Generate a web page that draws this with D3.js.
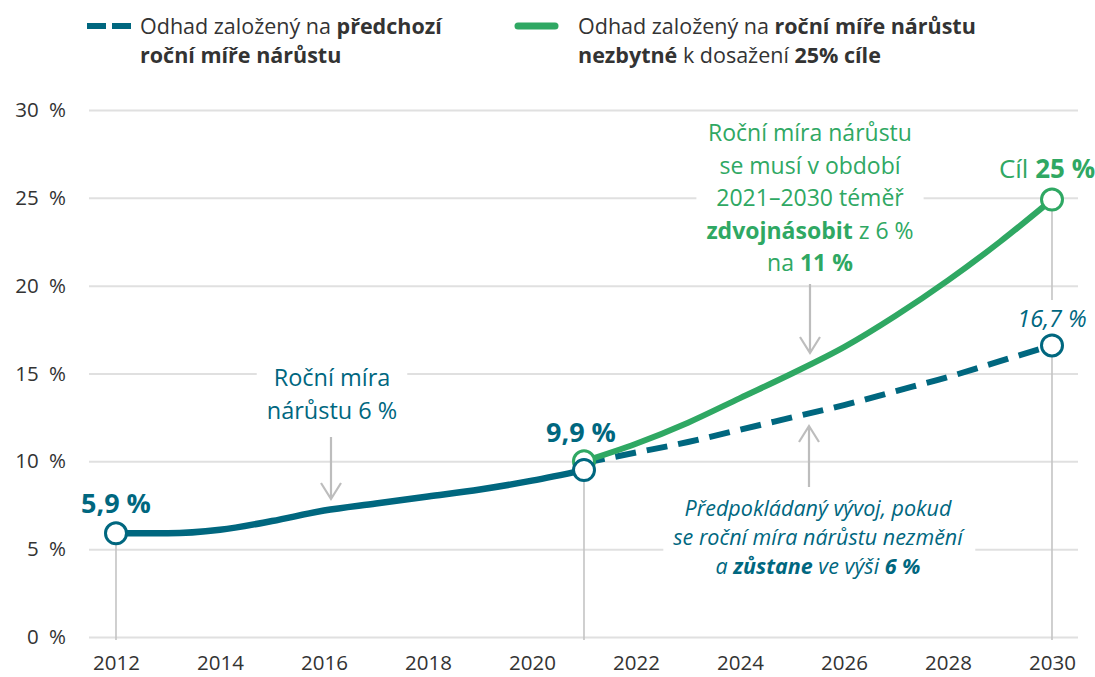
<!DOCTYPE html>
<html>
<head>
<meta charset="utf-8">
<script src="https://cdn.jsdelivr.net/npm/d3@7"></script>
<style>
  body { margin: 0; background: #fff; }
  svg { font-family: "Open Sans", "Noto Sans", sans-serif; }
</style>
</head>
<body>
<div id="chart"></div>
<script>
// data
var histYears = [2012, 2013, 2014, 2015, 2016, 2017, 2018, 2019, 2020, 2021]
var histValues = [5.9, 5.9, 6.1, 6.6, 7.2, 7.6, 8.0, 8.4, 8.9, 9.5]
var projYears = [2021, 2022, 2023, 2024, 2025, 2026, 2027, 2028, 2029, 2030]
var sameRate = [9.9, 10.5, 11.1, 11.8, 12.5, 13.2, 14.0, 14.8, 15.7, 16.6]   // 6 % growth kept
var targetRate = [10.0, 11.0, 12.2, 13.6, 15.0, 16.5, 18.3, 20.3, 22.5, 24.9] // needed for 25 %
var yTicks = [0, 5, 10, 15, 20, 25, 30]
var xTicks = [2012, 2014, 2016, 2018, 2020, 2022, 2024, 2026, 2028, 2030]

var width = 1095,
    height = 677

var teal = "#00677f",
    green = "#2fa863",
    grid = "#e0e0e0",
    pointer = "#bdbdbd",
    ink = "#333"

var svg = d3.select("#chart").append("svg")
    .attr("width", width)
    .attr("height", height)

var x = d3.scaleLinear().domain([2012, 2030]).range([116, 1052])
var y = d3.scaleLinear().domain([0, 30]).range([637, 110])

// y grid + labels
var yAxis = svg.append("g")
    .attr("transform", "translate(89,0)")
    .call(d3.axisLeft(y).tickValues(yTicks).tickSize(-989).tickPadding(23)
        .tickFormat(function(d) { return d + "\u2002%" }))
yAxis.select(".domain").remove()
yAxis.selectAll("line").attr("stroke", grid).attr("stroke-width", 2)
yAxis.selectAll("text").attr("fill", ink).style("font-size", "20.5px").style("font-family", "Open Sans")

// x labels
var xAxis = svg.append("g")
    .attr("transform", "translate(0," + y(0) + ")")
    .call(d3.axisBottom(x).tickValues(xTicks).tickSize(0).tickPadding(18).tickFormat(d3.format("d")))
xAxis.select(".domain").remove()
xAxis.selectAll("text").attr("fill", ink).style("font-size", "20.5px").style("font-family", "Open Sans")

// annotations (text blocks with white backing that cuts the grid)
function block(cx, lines, opts) {
    var g = svg.append("g")
    var t = g.append("text")
        .attr("text-anchor", "middle")
        .attr("fill", opts.color)
        .style("font-size", opts.size + "px")
        .style("font-style", opts.italic ? "italic" : "normal")
    lines.forEach(function(line, i) {
        var first = true
        line.forEach(function(seg) {
            var ts = t.append("tspan").text(seg[0])
                .style("font-weight", seg[1] ? "bold" : "normal")
            if (first) { ts.attr("x", cx).attr("y", opts.y0 + i * opts.lh); first = false }
        })
    })
    var bb = t.node().getBBox()
    g.insert("rect", "text")
        .attr("x", bb.x - 10).attr("y", bb.y)
        .attr("width", bb.width + 20).attr("height", bb.height)
        .attr("fill", "#fff")
    return g
}

function arrow(xp, y1, y2) {
    // y1 = tail, y2 = tip
    var dir = y2 > y1 ? -1 : 1
    svg.append("path")
        .attr("d", "M" + xp + "," + y1 + "V" + y2 +
            "M" + (xp - 10) + "," + (y2 + dir * 16) + "L" + xp + "," + y2 + "L" + (xp + 10) + "," + (y2 + dir * 16))
        .attr("fill", "none")
        .attr("stroke", pointer)
        .attr("stroke-width", 2.2)
}

block(332, [[["Roční míra", false]], [["nárůstu 6 %", false]]],
    { color: teal, size: 23.5, y0: 386, lh: 33 })
arrow(331, 437, 499)

block(810, [
    [["Roční míra nárůstu", false]],
    [["se musí v období", false]],
    [["2021–2030 téměř", false]],
    [["zdvojnásobit", true], [" z 6 %", false]],
    [["na ", false], ["11 %", true]]
], { color: green, size: 23, y0: 141, lh: 32.5 })
arrow(810, 284, 353)

block(818, [
    [["Předpokládaný vývoj, pokud", false]],
    [["se roční míra nárůstu nezmění", false]],
    [["a ", false], ["zůstane", true], [" ve výši ", false], ["6 %", true]]
], { color: teal, size: 21.5, italic: true, y0: 516, lh: 29 })
arrow(809, 487, 426)

// drop lines
function drop(xv, y1, y2) {
    svg.append("line")
        .attr("x1", x(xv)).attr("x2", x(xv))
        .attr("y1", y1).attr("y2", y2)
        .attr("stroke", "#c4c4c4").attr("stroke-width", 1.6)
}
drop(2012, y(histValues[0]), y(0) + 3)
drop(2021, y(histValues[9]), y(0) + 3)
drop(2030, y(targetRate[9]), 300)
drop(2030, y(sameRate[9]), y(0) + 3)

// lines
var line = d3.line()
    .x(function(d) { return x(d[0]) })
    .y(function(d) { return y(d[1]) })
    .curve(d3.curveMonotoneX)

svg.append("path")
    .datum(d3.zip(projYears, sameRate))
    .attr("d", line)
    .attr("fill", "none").attr("stroke", teal)
    .attr("stroke-width", 6).attr("stroke-dasharray", "21,11")

svg.append("path")
    .datum(d3.zip(projYears, targetRate))
    .attr("d", line)
    .attr("fill", "none").attr("stroke", green)
    .attr("stroke-width", 6)

svg.append("path")
    .datum(d3.zip(histYears, histValues))
    .attr("d", line)
    .attr("fill", "none").attr("stroke", teal)
    .attr("stroke-width", 6.5)

// end circles
var dots = [
    [2021, targetRate[0], green],
    [2030, targetRate[9], green],
    [2012, histValues[0], teal],
    [2021, histValues[9], teal],
    [2030, sameRate[9], teal]
]
svg.selectAll("circle.end")
    .data(dots)
    .enter()
    .append("circle")
    .attr("class", "end")
    .attr("cx", function(d) { return x(d[0]) })
    .attr("cy", function(d) { return y(d[1]) })
    .attr("r", 10.5)
    .attr("fill", "#fff")
    .attr("stroke", function(d) { return d[2] })
    .attr("stroke-width", 3)

// value labels
svg.append("text").text("5,9 %")
    .attr("x", x(2012)).attr("y", 513).attr("text-anchor", "middle")
    .attr("fill", teal).style("font-size", "27px").style("font-weight", "bold")
svg.append("text").text("9,9 %")
    .attr("x", 581).attr("y", 442).attr("text-anchor", "middle")
    .attr("fill", teal).style("font-size", "27px").style("font-weight", "bold")
var goal = svg.append("text")
    .attr("x", 1047).attr("y", 178).attr("text-anchor", "middle")
    .attr("fill", green).style("font-size", "26px")
goal.append("tspan").text("Cíl ")
goal.append("tspan").text("25 %").style("font-weight", "bold")
svg.append("text").text("16,7 %")
    .attr("x", x(2030)).attr("y", 327).attr("text-anchor", "middle")
    .attr("fill", teal).style("font-size", "23.5px").style("font-style", "italic")

// legend
var legend = svg.append("g")
legend.append("line")
    .attr("x1", 87).attr("x2", 131).attr("y1", 26).attr("y2", 26)
    .attr("stroke", teal).attr("stroke-width", 6).attr("stroke-dasharray", "19,6")
legend.append("line")
    .attr("x1", 518).attr("x2", 555).attr("y1", 26).attr("y2", 26)
    .attr("stroke", green).attr("stroke-width", 7).attr("stroke-linecap", "round")

function legendText(x0, lines) {
    var t = legend.append("text").attr("fill", ink).style("font-size", "21.5px")
    lines.forEach(function(line, i) {
        line.forEach(function(seg, j) {
            var ts = t.append("tspan").text(seg[0]).style("font-weight", seg[1] ? "bold" : "normal")
            if (j == 0) ts.attr("x", x0).attr("y", 34 + i * 29)
        })
    })
}
legendText(140, [
    [["Odhad založený na ", false], ["předchozí", true]],
    [["roční míře nárůstu", true]]
])
legendText(578, [
    [["Odhad založený na ", false], ["roční míře nárůstu", true]],
    [["nezbytné", true], [" k dosažení ", false], ["25% cíle", true]]
])
</script>
</body>
</html>
